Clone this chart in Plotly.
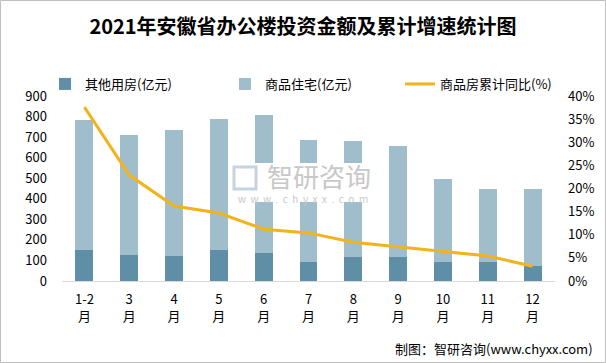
import plotly.graph_objects as go

months = ["1-2<br>月", "3<br>月", "4<br>月", "5<br>月", "6<br>月", "7<br>月",
          "8<br>月", "9<br>月", "10<br>月", "11<br>月", "12<br>月"]
other = [151, 126, 122, 151, 136, 92, 117, 117, 92, 92, 73]
total = [783, 710, 734, 788, 807, 686, 681, 657, 496, 447, 447]
residential = [t - o for t, o in zip(total, other)]
growth = [37.6, 22.9, 16.2, 14.7, 11.2, 10.4, 8.4, 7.4, 6.5, 5.4, 3.2]

FONT = "Noto Sans CJK SC"

fig = go.Figure()
fig.add_trace(go.Bar(x=months, y=other, name="其他用房(亿元)", legend="legend",
                     marker=dict(color="#5E8FA6", line=dict(width=0)), width=0.4))
fig.add_trace(go.Bar(x=months, y=residential, name="商品住宅(亿元)", legend="legend2",
                     marker=dict(color="#9FBDCB", line=dict(width=0)), width=0.4))
fig.add_trace(go.Scatter(x=months, y=growth, name="商品房累计同比(%)", yaxis="y2",
                         legend="legend3",
                         mode="lines", line=dict(color="#F2B31B", width=3)))

L, R, T, B = 62, 51, 96, 82
W, H = 606, 363
pw, ph = W - L - R, H - T - B

def px(x):
    return (x - L) / pw

def py(y):
    return (H - B - y) / ph

def leg(xpix):
    return dict(orientation="h", xref="container", yref="container",
                x=xpix / W, y=1 - 84 / H, xanchor="left", yanchor="middle",
                font=dict(size=13), itemwidth=30, bgcolor="rgba(0,0,0,0)")

fig.update_layout(
    width=W, height=H,
    margin=dict(l=L, r=R, t=T, b=B, autoexpand=False),
    barmode="stack",
    plot_bgcolor="white", paper_bgcolor="white",
    font=dict(family=FONT, size=13, color="#000000"),
    title=dict(text="<b>2021年安徽省办公楼投资金额及累计增速统计图</b>",
               x=0.5, xanchor="center", y=1 - 27 / H, yanchor="middle",
               font=dict(family=FONT, size=20, color="#000000")),
    showlegend=True,
    legend=leg(45), legend2=leg(225), legend3=leg(400),
    xaxis=dict(showgrid=False, showline=True, linecolor="#D9D9D9", linewidth=1,
               ticks="", tickfont=dict(size=13), zeroline=False, ticklabelstandoff=6),
    yaxis=dict(range=[0, 900], dtick=100, showgrid=False, zeroline=False,
               showline=False, ticks="", tickfont=dict(size=13), ticklabelstandoff=14),
    yaxis2=dict(range=[0, 40], dtick=5, ticksuffix="%", overlaying="y", side="right",
                showgrid=False, zeroline=False, showline=False, ticks="",
                tickfont=dict(size=13), ticklabelstandoff=12),
    bargap=0.6,
)

# watermark white patch and text
fig.add_shape(type="rect", xref="paper", yref="paper",
              x0=px(232), x1=px(378), y0=py(202), y1=py(163),
              fillcolor="white", line=dict(width=0), layer="above")
fig.add_shape(type="rect", xref="paper", yref="paper",
              x0=px(234), x1=px(256), y0=py(189), y1=py(167),
              fillcolor="rgba(0,0,0,0)", line=dict(color="#C5D3E3", width=3), layer="above")
fig.add_annotation(text="智研咨询", xref="paper", yref="paper",
                   x=px(319), y=py(175), showarrow=False,
                   font=dict(family=FONT, size=26, color="#C8C8C8"))
fig.add_annotation(text="w  w  w  .  c  h  y  x  x  .  c  o  m", xref="paper", yref="paper",
                   x=px(303), y=py(198), showarrow=False,
                   font=dict(family=FONT, size=10, color="#C8C8C8"))

# source
fig.add_annotation(text="制图：智研咨询(www.chyxx.com)", xref="paper", yref="paper",
                   x=px(595), y=py(348), xanchor="right", yanchor="middle", showarrow=False,
                   font=dict(family=FONT, size=13, color="#000000"))

# border
fig.add_shape(type="rect", xref="paper", yref="paper",
              x0=px(0.5), x1=px(605.5), y0=py(362.5), y1=py(0.5),
              line=dict(color="#BFBFBF", width=1), fillcolor="rgba(0,0,0,0)")

fig.write_html("out.html", config={"displayModeBar": False},
               post_script="document.body.style.margin='0';document.body.style.overflow='hidden';")
